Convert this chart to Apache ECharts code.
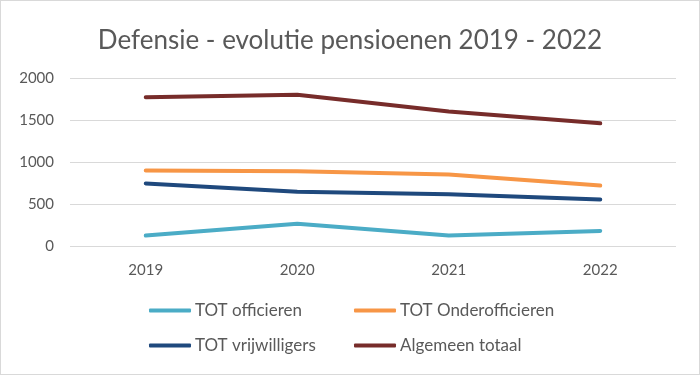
<!DOCTYPE html>
<html>
<head>
<meta charset="utf-8">
<script src="https://cdn.jsdelivr.net/npm/echarts@6/dist/echarts.min.js"></script>
<style>
  html, body { margin: 0; padding: 0; background: #fff; }
  #chart { width: 698px; height: 373px; border: 1px solid #d9d9d9; }
</style>
</head>
<body>
<div id="chart"></div>
<script>
const years = ["2019", "2020", "2021", "2022"];
const officieren = [125, 265, 125, 180];
const onderofficieren = [900, 890, 850, 720];
const vrijwilligers = [745, 645, 615, 555];
const totaal = [1770, 1800, 1600, 1460];

const seriesNames = ["TOT officieren", "TOT Onderofficieren", "TOT vrijwilligers", "Algemeen totaal"];
const colors = ["#4bacc6", "#f79646", "#1f497d", "#772c2a"];
const seriesData = [officieren, onderofficieren, vrijwilligers, totaal];

const font = "Lato, 'Open Sans', sans-serif";
const legendPos = [[148, 301], [353, 301], [148, 336], [353, 336]];

const chart = echarts.init(document.getElementById("chart"));
chart.setOption({
    animation: false,
    title: {
        text: "Defensie - evolutie pensioenen 2019 - 2022",
        left: "center",
        top: 22,
        textStyle: { color: "#595959", fontSize: 26, fontWeight: "normal", fontFamily: font },
    },
    legend: seriesNames.map((name, i) => ({
        data: [name],
        left: legendPos[i][0],
        top: legendPos[i][1],
        padding: 0,
        icon: "roundRect",
        itemWidth: 42,
        itemHeight: 4,
        itemGap: 4,
        textStyle: { color: "#595959", fontSize: 17, fontFamily: font, padding: [0, 0, 0, -1] },
    })),
    grid: { left: 69, right: 23, top: 77, bottom: 128 },
    xAxis: {
        type: "category",
        data: years,
        axisLine: { show: false },
        axisTick: { show: false },
        axisLabel: { color: "#595959", fontSize: 15, fontFamily: font, margin: 17 },
    },
    yAxis: {
        type: "value",
        min: 0,
        max: 2000,
        interval: 500,
        axisLabel: { color: "#595959", fontSize: 15, fontFamily: font, margin: 16, formatter: (v) => String(v) },
        splitLine: { lineStyle: { color: "#d9d9d9" } },
    },
    series: seriesNames.map((name, i) => ({
        name,
        type: "line",
        data: seriesData[i],
        symbol: "none",
        lineStyle: { width: 4, color: colors[i], cap: "round" },
        itemStyle: { color: colors[i] },
    })),
});
</script>
</body>
</html>
